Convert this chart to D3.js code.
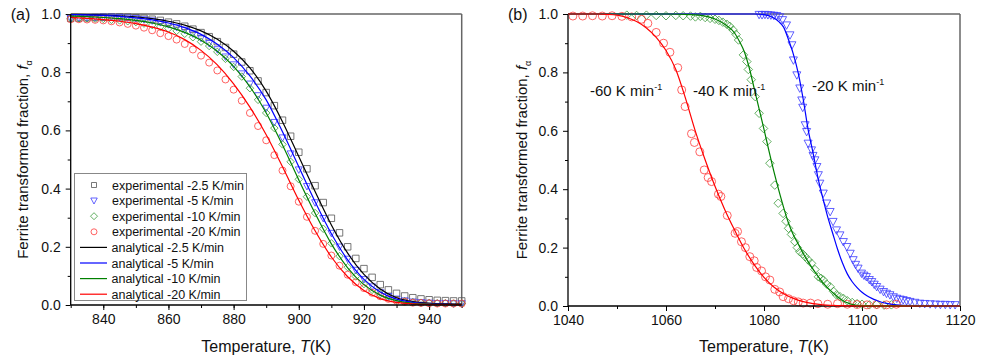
<!DOCTYPE html>
<html><head><meta charset="utf-8">
<script src="https://cdn.jsdelivr.net/npm/d3@7"></script>
<style>body{margin:0;background:#fff}svg{display:block;font-family:"Liberation Sans",Arial,sans-serif}</style>
</head><body><svg id="c" width="990" height="363"></svg>
<script>
// ---------- Panel (a) data ----------
const aLineT = [830,835,840,845,850,855,860,865,870,875,880,885,890,895,900,905,910,915,920,925,930,935,940,945,950];
const aLine25 = [0.999,0.998,0.996,0.994,0.99,0.984,0.975,0.962,0.942,0.913,0.872,0.815,0.735,0.63,0.51,0.39,0.275,0.178,0.105,0.055,0.025,0.012,0.006,0.004,0.003];
const aLine5  = [0.998,0.997,0.995,0.992,0.987,0.98,0.969,0.953,0.93,0.896,0.85,0.787,0.705,0.595,0.475,0.355,0.245,0.155,0.088,0.045,0.02,0.009,0.004,0.002,0.001];
const aLine10 = [0.993,0.991,0.988,0.984,0.978,0.969,0.956,0.937,0.91,0.872,0.82,0.75,0.66,0.55,0.43,0.315,0.21,0.128,0.07,0.034,0.015,0.006,0.003,0.001,0.001];
const aLine20 = [0.988,0.985,0.981,0.975,0.967,0.955,0.938,0.912,0.875,0.825,0.76,0.68,0.585,0.475,0.36,0.255,0.165,0.097,0.05,0.022,0.009,0.004,0.002,0.001,0.001];

const aExpT = [830,832.5,835,837.5,840,842.5,845,847.5,850,852.5,855,857.5,860,862.5,865,867.5,870,872.5,875,877.5,880,882.5,885,887.5,890,892.5,895,897.5,900,902.5,905,907.5,910,912.5,915,917.5,920,922.5,925,927.5,930,932.5,935,937.5,940,942.5,945,947.5,950];
const aExp25 = [0.985,0.986,0.987,0.988,0.989,0.99,0.99,0.989,0.987,0.985,0.982,0.978,0.972,0.966,0.958,0.948,0.936,0.922,0.905,0.885,0.862,0.835,0.805,0.77,0.73,0.685,0.635,0.58,0.525,0.468,0.41,0.352,0.298,0.248,0.2,0.16,0.125,0.095,0.07,0.052,0.04,0.031,0.025,0.021,0.018,0.016,0.015,0.014,0.014];
const aExp5  = [0.985,0.987,0.988,0.989,0.99,0.99,0.989,0.987,0.985,0.981,0.977,0.971,0.964,0.955,0.945,0.932,0.917,0.899,0.878,0.853,0.826,0.795,0.76,0.72,0.677,0.628,0.575,0.52,0.465,0.408,0.352,0.298,0.247,0.2,0.158,0.12,0.088,0.063,0.043,0.03,0.021,0.015,0.011,0.009,0.007,0.006,0.006,0.005,0.005];
const aExp10 = [0.985,0.985,0.985,0.984,0.983,0.98,0.978,0.975,0.972,0.967,0.962,0.956,0.95,0.942,0.932,0.92,0.905,0.89,0.87,0.846,0.818,0.785,0.745,0.705,0.66,0.608,0.552,0.492,0.432,0.372,0.316,0.262,0.212,0.168,0.13,0.098,0.072,0.052,0.037,0.026,0.018,0.013,0.01,0.008,0.007,0.006,0.006,0.005,0.005];
const aExp20 = [0.982,0.982,0.981,0.98,0.978,0.975,0.971,0.966,0.96,0.953,0.944,0.934,0.924,0.912,0.897,0.878,0.857,0.833,0.806,0.775,0.74,0.702,0.66,0.615,0.566,0.515,0.462,0.408,0.355,0.303,0.255,0.21,0.17,0.135,0.104,0.078,0.058,0.042,0.03,0.021,0.015,0.011,0.008,0.007,0.006,0.005,0.005,0.005,0.005];

const legendLabels = ["experimental -2.5 K/min","experimental -5 K/min","experimental -10 K/min","experimental -20 K/min","analytical -2.5 K/min","analytical -5 K/min","analytical -10 K/min","analytical -20 K/min"];

// ---------- Panel (b) data ----------
const bRedLineT = [1040,1046,1048,1050,1052,1054,1056,1058,1060,1062,1064,1066,1068,1070,1072,1074,1076,1078,1080,1082,1084,1086,1088,1090,1092,1095,1100,1120];
const bRedLine  = [1.0,1.0,0.999,0.996,0.988,0.974,0.952,0.92,0.875,0.81,0.71,0.598,0.5,0.41,0.33,0.26,0.195,0.142,0.098,0.065,0.042,0.026,0.015,0.008,0.004,0.001,0,0];
const bGreenLineT = [1040,1060,1065,1068,1070,1072,1074,1075,1076,1077,1078,1079,1080,1081,1082,1083,1084,1085,1086,1087,1088,1089,1090,1091,1092,1093,1094,1095,1096,1097,1098,1100,1120];
const bGreenLine  = [1.0,1.0,0.998,0.993,0.983,0.965,0.935,0.906,0.87,0.815,0.745,0.675,0.605,0.532,0.462,0.398,0.338,0.284,0.243,0.212,0.18,0.152,0.126,0.102,0.08,0.062,0.046,0.032,0.02,0.011,0.005,0.001,0];
const bBlueLineT = [1040,1078,1080,1081,1082,1083,1084,1085,1086,1087,1088,1089,1090,1091,1092,1093,1094,1095,1096,1097,1098,1099,1100,1101,1102,1103,1104,1105,1107,1110,1120];
const bBlueLine  = [1.0,1.0,0.998,0.994,0.986,0.974,0.955,0.912,0.862,0.797,0.708,0.605,0.525,0.44,0.37,0.305,0.25,0.195,0.148,0.11,0.083,0.063,0.047,0.035,0.026,0.019,0.013,0.009,0.004,0.001,0];

const bRedExpT = [1041,1043,1045,1047,1049,1051,1053,1055,1056.3,1058,1059.5,1060.8,1062.4,1063.2,1063.9,1065.2,1065.8,1066.9,1067.8,1068.6,1069.3,1070.7,1071.2,1072.5,1074.1,1074.6,1075.4,1076.2,1077.1,1078,1078.5,1079.5,1080.3,1081.2,1082.2,1083.2,1083.9,1085,1086,1087,1088,1089.5,1091,1093,1095,1097,1099,1101,1103,1105,1107];
const bRedExp  = [0.993,0.993,0.994,0.993,0.994,0.992,0.99,0.982,0.968,0.937,0.9,0.869,0.816,0.74,0.683,0.59,0.56,0.528,0.466,0.44,0.426,0.383,0.375,0.31,0.249,0.255,0.22,0.2,0.169,0.155,0.132,0.12,0.1,0.089,0.057,0.048,0.032,0.025,0.018,0.014,0.01,0.01,0.008,0.006,0.008,0.006,0.005,0.004,0.005,0.004,0.006];
const bGreenExpT = [1052,1054,1056,1058,1060,1062,1063.5,1065,1066,1067,1068,1069,1070,1070.8,1071.6,1072.4,1073,1073.7,1074.3,1074.8,1075.8,1076.5,1076.8,1077.4,1078.2,1079,1079.9,1080.6,1081.2,1082.2,1082.9,1083.9,1084.5,1085,1085.6,1086.3,1086.8,1087.3,1087.9,1088.4,1089,1089.7,1090.4,1091.1,1091.6,1092.1,1092.8,1093.5,1094.2,1094.8,1095.5,1096.2,1097,1098,1099,1100,1101.5,1103,1104.5,1106];
const bGreenExp  = [0.996,0.995,0.996,0.995,0.994,0.995,0.994,0.993,0.99,0.992,0.988,0.985,0.982,0.978,0.972,0.965,0.958,0.945,0.93,0.911,0.86,0.837,0.81,0.775,0.717,0.66,0.608,0.563,0.489,0.414,0.352,0.317,0.29,0.266,0.245,0.22,0.2,0.186,0.178,0.169,0.158,0.146,0.125,0.1,0.095,0.089,0.075,0.066,0.05,0.038,0.032,0.026,0.018,0.012,0.008,0.006,0.004,0.005,0.003,0.004];
const bBlueExpT = [1079,1079.6,1080.2,1080.8,1081.4,1082,1082.6,1083.2,1083.8,1084.6,1085.3,1085.7,1086,1086.7,1087.3,1087.7,1087.9,1088.4,1088.7,1089,1089.7,1090,1090.4,1090.8,1091.1,1091.4,1092.1,1092.8,1093.5,1094.1,1094.8,1095.5,1096.2,1096.9,1097.6,1098.2,1098.7,1099.2,1099.9,1100.4,1100.9,1101.5,1102,1102.5,1103,1103.7,1104.4,1105,1105.7,1106.4,1107.1,1107.8,1108.4,1109.1,1109.8,1110.8,1111.8,1112.8,1113.9,1115,1116,1117,1118,1119];
const bBlueExp  = [0.998,0.997,0.998,0.997,0.996,0.995,0.994,0.99,0.98,0.962,0.928,0.894,0.842,0.791,0.746,0.705,0.68,0.62,0.597,0.557,0.534,0.515,0.5,0.477,0.449,0.42,0.386,0.352,0.323,0.289,0.26,0.243,0.22,0.203,0.18,0.158,0.142,0.129,0.112,0.105,0.1,0.09,0.083,0.074,0.066,0.057,0.049,0.043,0.038,0.031,0.026,0.023,0.021,0.018,0.015,0.012,0.009,0.008,0.007,0.006,0.005,0.005,0.004,0.004];
const bRateLabels = ["-60 K min","-40 K min","-20 K min"];

const C = {black:"#000", blue:"#0000ff", green:"#008000", red:"#ff0000",
           mGray:"#555", mBlue:"#3a3aff", mGreen:"#3a9a3a", mRed:"#ff3b3b"};

const svg = d3.select("#c");

// custom symbols
const symSquare = {draw(ctx,s){const h=s/2;ctx.moveTo(-h,-h);ctx.lineTo(h,-h);ctx.lineTo(h,h);ctx.lineTo(-h,h);ctx.closePath();}};
const symTriDown = {draw(ctx,s){const h=s/2;ctx.moveTo(-h,-h*0.8);ctx.lineTo(h,-h*0.8);ctx.lineTo(0,h*1.05);ctx.closePath();}};
const symDiamond = {draw(ctx,s){const h=s/2;ctx.moveTo(0,-h);ctx.lineTo(h,0);ctx.lineTo(0,h);ctx.lineTo(-h,0);ctx.closePath();}};
const symCircle = {draw(ctx,s){const r=s/2;ctx.moveTo(r,0);ctx.arc(0,0,r,0,2*Math.PI);}};

function drawPanel(g, x, y, xMajor, xMinor){
  const [x0,x1]=x.range(), [y0,y1]=y.range();
  const axX = d3.axisBottom(x).tickValues(xMinor).tickSize(3).tickFormat("");
  g.append("g").attr("transform",`translate(0,${y0})`).call(axX);
  const axX2 = d3.axisBottom(x).tickValues(xMajor).tickSize(5).tickPadding(4).tickFormat(d3.format("d"));
  g.append("g").attr("class","xa").attr("transform",`translate(0,${y0})`).call(axX2);
  const axY = d3.axisLeft(y).tickValues(d3.range(0.1,1.0,0.2)).tickSize(3).tickFormat("");
  g.append("g").attr("transform",`translate(${x0},0)`).call(axY);
  const axY2 = d3.axisLeft(y).tickValues([0,0.2,0.4,0.6,0.8,1.0]).tickSize(5).tickPadding(5).tickFormat(d3.format(".1f"));
  g.append("g").attr("class","ya").attr("transform",`translate(${x0},0)`).call(axY2);
  g.selectAll(".domain").remove();
  g.selectAll(".tick line").attr("stroke","#000").attr("stroke-width",1);
  g.selectAll(".tick text").attr("font-size",14).attr("fill","#111").attr("font-family","Liberation Sans, Arial, sans-serif");
  g.append("line").attr("x1",x0).attr("x2",x1).attr("y1",y1).attr("y2",y1).attr("stroke","#666").attr("stroke-width",1.5);
  g.append("line").attr("x1",x1).attr("x2",x1).attr("y1",y1).attr("y2",y0).attr("stroke","#666").attr("stroke-width",1.5);
}
function axes(g, x, y){
  const [x0,x1]=x.range(), [y0,y1]=y.range();
  g.append("line").attr("x1",x0).attr("x2",x1).attr("y1",y0).attr("y2",y0).attr("stroke","#000").attr("stroke-width",1.3);
  g.append("line").attr("x1",x0).attr("x2",x0).attr("y1",y1).attr("y2",y0).attr("stroke","#000").attr("stroke-width",1.3);
}
function titles(g, x, y, letter, lx){
  const [x0,x1]=x.range(), [y0,y1]=y.range();
  const xt = g.append("text").attr("x",(x0+x1)/2).attr("y",352).attr("text-anchor","middle").attr("font-size",16).attr("fill","#111");
  xt.append("tspan").text("Temperature,  ");
  xt.append("tspan").attr("font-style","italic").text("T");
  xt.append("tspan").text("(K)");
  const yt = g.append("text").attr("transform",`translate(${lx},${(y0+y1)/2}) rotate(-90)`).attr("text-anchor","middle").attr("font-size",15).attr("fill","#111");
  yt.append("tspan").text("Ferrite transformed fraction, ");
  yt.append("tspan").attr("font-style","italic").text("f");
  yt.append("tspan").attr("font-size",9).attr("dy",4).text("α");
  g.append("text").attr("x",x0-60).attr("y",y1+6).attr("font-size",16).attr("fill","#111").text(letter);
}

function lineSeries(g, x, y, T, F, color, w){
  const line = d3.line().x((d,i)=>x(T[i])).y(d=>y(d)).curve(d3.curveMonotoneX);
  g.append("path").datum(F).attr("d",line).attr("fill","none").attr("stroke",color).attr("stroke-width",w||1.2);
}
function markers(g, x, y, T, F, sym, size, color){
  g.selectAll(null).data(F).enter().append("path")
   .attr("transform",(d,i)=>`translate(${x(T[i])},${y(d)})`)
   .attr("d",d3.symbol().type(sym).size(size)())
   .attr("fill","none").attr("stroke",color).attr("stroke-width",0.8);
}

// ---------- Panel (a) ----------
{
  const x = d3.scaleLinear().domain([830,950]).range([70.7,461.7]);
  const y = d3.scaleLinear().domain([0,1]).range([305,14]);
  const g = svg.append("g");
  drawPanel(g,x,y,d3.range(840,941,20),d3.range(830,951,10));
  const pg = g.append("g");
  markers(pg,x,y,aExpT,aExp25,symSquare,6.5,C.mGray);
  markers(pg,x,y,aExpT,aExp5,symTriDown,7,C.mBlue);
  markers(pg,x,y,aExpT,aExp10,symDiamond,7.5,C.mGreen);
  markers(pg,x,y,aExpT,aExp20,symCircle,7,C.mRed);
  lineSeries(pg,x,y,aLineT,aLine25,C.black);
  lineSeries(pg,x,y,aLineT,aLine5,C.blue);
  lineSeries(pg,x,y,aLineT,aLine10,C.green);
  lineSeries(pg,x,y,aLineT,aLine20,C.red);
  axes(g,x,y);
  titles(g,x,y,"(a)",28);
  const lg = g.append("g");
  lg.append("rect").attr("x",74.5).attr("y",173.5).attr("width",172).attr("height",127).attr("fill","#fff").attr("stroke","#888").attr("stroke-width",1);
  const syms=[[symSquare,C.mGray,5],[symTriDown,C.mBlue,6.5],[symDiamond,C.mGreen,7],[symCircle,C.mRed,6]];
  const lcols=[C.black,C.blue,C.green,C.red];
  legendLabels.forEach((t,i)=>{
    const yy = 185 + i*15.6;
    if(i<4){
      lg.append("path").attr("transform",`translate(94,${yy})`).attr("d",d3.symbol().type(syms[i][0]).size(syms[i][2])()).attr("fill","none").attr("stroke",syms[i][1]).attr("stroke-width",0.8);
    } else {
      lg.append("line").attr("x1",80).attr("x2",107).attr("y1",yy).attr("y2",yy).attr("stroke",lcols[i-4]).attr("stroke-width",1.2);
    }
    lg.append("text").attr("x",i<4?112:111.5).attr("y",yy+4.5).attr("font-size",12.5).attr("fill","#111").text(t);
  });
}

// ---------- Panel (b) ----------
{
  const x = d3.scaleLinear().domain([1040,1120]).range([568,960]);
  const y = d3.scaleLinear().domain([0,1]).range([306,14]);
  const g = svg.append("g");
  drawPanel(g,x,y,d3.range(1040,1121,20),d3.range(1040,1121,10));
  markers(g,x,y,bBlueExpT,bBlueExp,symTriDown,8,C.mBlue);
  markers(g,x,y,bGreenExpT,bGreenExp,symDiamond,8.5,C.mGreen);
  markers(g,x,y,bRedExpT,bRedExp,symCircle,8,C.mRed);
  axes(g,x,y);
  lineSeries(g,x,y,bBlueLineT,bBlueLine,C.blue);
  lineSeries(g,x,y,bGreenLineT,bGreenLine,C.green);
  lineSeries(g,x,y,bRedLineT,bRedLine,C.red);
  titles(g,x,y,"(b)",527);
  const pos=[[590,96],[693,96],[812,91]];
  bRateLabels.forEach((t,i)=>{
    const tx = g.append("text").attr("x",pos[i][0]).attr("y",pos[i][1]).attr("font-size",15).attr("fill","#111");
    tx.append("tspan").text(t);
    tx.append("tspan").attr("font-size",9).attr("dy",-6).text("-1");
  });
}
</script></body></html>
